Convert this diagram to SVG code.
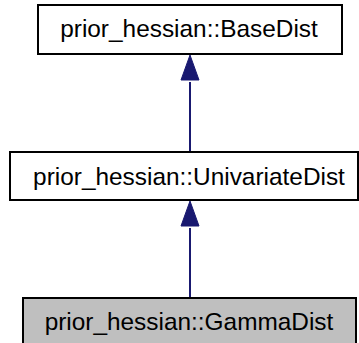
<svg xmlns="http://www.w3.org/2000/svg" width="359" height="343" viewBox="0 0 359 343">
<style>
.box{fill:#ffffff;stroke:#000000;stroke-width:2}
.cur{fill:#bfbfbf;stroke:#000000;stroke-width:2}
.lbl{font-family:"Liberation Sans",Arial,sans-serif;font-size:24.4px;fill:#000000;text-anchor:middle}
.edge{stroke:#191970;stroke-width:2;fill:none}
.head{fill:#191970;stroke:#191970;stroke-width:1}
</style>
<rect width="359" height="343" fill="#ffffff"/>
<g id="connectors">
<line class="edge" x1="190" y1="82" x2="190" y2="152"/>
<polygon class="head" points="190,55 181,80 199,80"/>
<line class="edge" x1="190" y1="228" x2="190" y2="298"/>
<polygon class="head" points="190,201 181,226 199,226"/>
</g>
<g id="node_BaseDist">
<rect class="box" x="38" y="5" width="304" height="49"/>
<text class="lbl" x="189" y="37">prior_hessian::BaseDist</text>
</g>
<g id="node_UnivariateDist">
<rect class="box" x="10" y="152" width="348" height="48"/>
<text class="lbl" x="189" y="185">prior_hessian::UnivariateDist</text>
</g>
<g id="node_GammaDist">
<rect class="cur" x="23" y="298" width="333" height="50"/>
<text class="lbl" x="189" y="330">prior_hessian::GammaDist</text>
</g>
</svg>
